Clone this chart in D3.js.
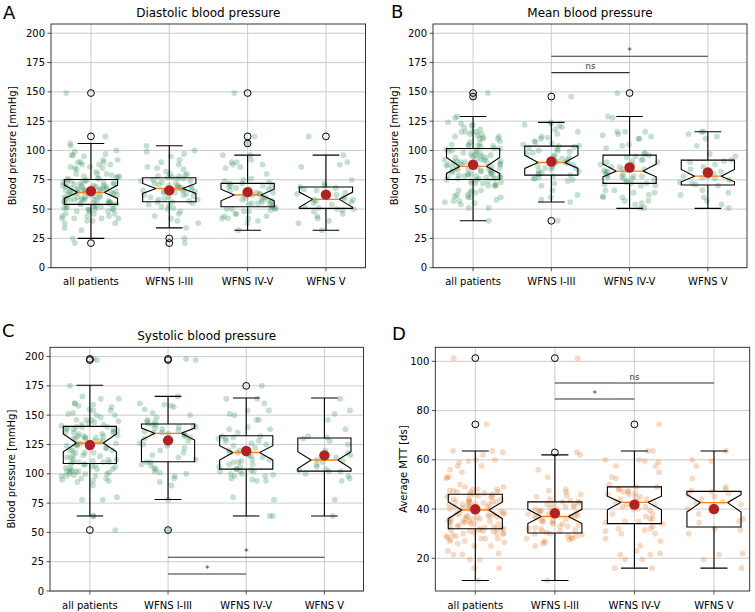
<!DOCTYPE html>
<html><head><meta charset="utf-8">
<script src="https://cdn.jsdelivr.net/npm/d3@7"></script>
<style>body{margin:0;background:#fff} svg{display:block} text{font-family:"DejaVu Sans",sans-serif;fill:#000}</style>
</head><body>
<svg id="c" width="755" height="612"></svg>
<script>
// ---------------- data ----------------
const categories = ["all patients", "WFNS I-III", "WFNS IV-V", "WFNS V"];
const yTicksBP = [0, 25, 50, 75, 100, 125, 150, 175, 200];
const yTicksMTT = [20, 40, 60, 80, 100];

// Diastolic: per-patient values by grade group (WFNS I-III, WFNS IV only, WFNS V)
const diaG13 = [21,25,34,38,40,42,44,46,48,50,51,52,53,54,55,56,56,57,58,58,59,60,60,61,62,62,63,64,64,65,65,66,66,67,67,68,68,69,69,70,70,71,72,72,73,74,74,75,76,76,77,77,78,78,79,80,80,82,84,85,86,88,90,92,95,97,99,100,104];
const diaG4 = [149,106,96,92,90,88,85,80,76,74,73,72,70,69,67,66,64,63,62,60,58,56,55,54,52,50,48,46,44,42,42];
const diaG5 = [32,38,40,42,44,46,48,49,50,50,51,52,54,55,56,57,58,58,59,60,62,63,64,66,67,68,69,70,72,75,86,88,90,96,112];
const diaQ1 = [54, 56.3, 52, 50.6];
const diaMed = [64.2, 67.6, 62, 58.3];
const diaQ3 = [75.3, 76.7, 71.9, 68.8];
const diaNotchLo = [59.1, 63.4, 57.1, 51.5];
const diaNotchHi = [70.5, 71.9, 67, 64.5];
const diaWhLo = [25, 34, 32, 32];
const diaWhHi = [106, 104, 96, 96];
const diaMean = [65.3, 66, 64.5, 62.3];
const diaOutliers = [[149, 112, 21], [25, 21], [149, 112, 106], [112]];

// Mean blood pressure
const mapG13 = [40,56,58,60,62,66,70,72,74,75,76,76,77,78,79,80,80,81,82,83,84,85,85,86,87,88,88,89,90,90,91,92,93,94,95,96,97,98,99,100,100,101,102,103,104,104,105,106,107,108,110,111,112,114,116,118,120,121,122,123,124,146];
const mapG4 = [149,129,128,116,113,110,105,102,98,96,94,92,90,88,86,84,83,82,80,78,76,74,72,70,66,64,61,60,57,55,51];
const mapG5 = [51,54,57,60,62,64,66,70,71,72,73,75,76,77,78,78,79,80,82,84,86,88,90,91,92,95,97,104,110,112,114,116,116];
const mapQ1 = [75.3, 79, 71.9, 70.5];
const mapMed = [86.4, 89.8, 82.4, 78.1];
const mapQ3 = [101.7, 103.7, 96, 91.8];
const mapNotchLo = [80.4, 84.7, 77.5, 73.3];
const mapNotchHi = [94.1, 96, 88.4, 83.8];
const mapWhLo = [40, 56, 50.6, 50.6];
const mapWhHi = [129, 124, 129, 116];
const mapMean = [87.8, 90.6, 85.5, 81.2];
const mapOutliers = [[149, 146], [146, 40], [149], []];
const mapBrackets = [{a: 2, b: 4, y: 180.4, label: "*"}, {a: 2, b: 3, y: 166.5, label: "ns"}];

// Systolic
const sysG13 = [52,78,90,93,96,98,100,101,102,104,105,107,108,110,110,112,114,116,118,120,122,124,125,126,128,130,131,132,133,134,134,135,135,136,137,138,139,140,140,141,142,142,143,144,145,146,148,150,152,155,157,158,159,160,166,197,198];
const sysG4 = [64,80,94,95,98,99,100,102,104,106,108,110,112,115,118,120,122,124,126,128,130,132,135,138,140,146,150,154,160,164,175];
const sysG5 = [64,78,94,96,98,100,102,102,103,104,106,108,110,111,112,114,116,118,120,125,128,130,131,132,138,146,151,154,164];
const sysQ1 = [108.8, 110.3, 104, 102.3];
const sysMed = [126.2, 134.5, 118.2, 111.7];
const sysQ3 = [140.4, 142.5, 132.5, 130.5];
const sysNotchLo = [118.8, 128.8, 111.7, 104.5];
const sysNotchHi = [133.9, 139, 123.9, 118.8];
const sysWhLo = [64, 78, 64, 64];
const sysWhHi = [175.5, 166, 164.7, 164.7];
const sysMean = [124.5, 128.5, 119.4, 115.7];
const sysOutliers = [[198, 197, 52], [198, 197, 52], [175], []];
const sysBrackets = [{a: 2, b: 4, y: 28.8, label: "*"}, {a: 2, b: 3, y: 14.5, label: "*"}];

// Average MTT
const mttG13 = [11,25,26,26.5,27,27.5,28,28,28.5,29,29,29.5,30,30,30.5,31,31,31.5,32,32,32.5,33,33,33.5,34,34,34.5,35,35,35.5,36,36,36.5,37,37,37,37.5,38,38,38.5,39,39,39.5,40,40,40.5,41,41,41.5,42,42,42.5,43,43,43.5,44,45,45.5,46,47,47.5,48,53,56,62,63,101.3];
const mttG4 = [16,19.5,21.5,23,25,27,28,30,31,32,33,34,35,36,37,38,40,41,42,43,44,45,46,47,48,49,50,53,55,57.5,59,60,63.6,74.4];
const mttG5 = [16,19.5,21.5,22,30,31.5,32,34.5,35,36,38,39.5,40,41,42,42.5,43,44,45,46,46.5,47,47.5,48,49,52.5,57.5,59.5,60,63.6];
const mttQ1 = [32, 30.3, 34.1, 32.7];
const mttMed = [39.6, 37, 42.7, 42.6];
const mttQ3 = [46, 42.9, 49, 47.2];
const mttNotchLo = [36.1, 34.1, 39.7, 38.8];
const mttNotchHi = [42.9, 39.9, 45.2, 45.8];
const mttWhLo = [11, 11, 16, 16];
const mttWhHi = [63.6, 62, 63.6, 63.6];
const mttMean = [39.9, 38.3, 41.8, 40];
const mttOutliers = [[101.3, 74.4], [101.3, 63], [74.4], []];
const mttBrackets = [{a: 2, b: 4, y: 91.2, label: "ns"}, {a: 2, b: 3, y: 84.7, label: "*"}];

// group membership: all = I-III + IV + V ; IV-V = IV + V
function groups(g13, g4, g5) { return [g13.concat(g4, g5), g13, g4.concat(g5), g5]; }

// ---------------- layout ----------------
const panels = [
  {letter: "A", lx: 3, ly: 19, title: "Diastolic blood pressure", ylabel: "Blood pressure [mmHg]", ylx: 16,
   x0: 51, x1: 365.5, y0: 24, y1: 267.7, xd: [0.49, 4.505], yd: [0, 207.9], ticks: yTicksBP,
   color: "#2e8b57", vals: groups(diaG13, diaG4, diaG5), q1: diaQ1, med: diaMed, q3: diaQ3, nlo: diaNotchLo, nhi: diaNotchHi,
   wlo: diaWhLo, whi: diaWhHi, mean: diaMean, out: diaOutliers, br: []},
  {letter: "B", lx: 391, ly: 18, title: "Mean blood pressure", ylabel: "Blood pressure [mmHg]", ylx: 397.5,
   x0: 433, x1: 747, y0: 24, y1: 267.7, xd: [0.488, 4.5], yd: [0, 207.9], ticks: yTicksBP,
   color: "#2e8b57", vals: groups(mapG13, mapG4, mapG5), q1: mapQ1, med: mapMed, q3: mapQ3, nlo: mapNotchLo, nhi: mapNotchHi,
   wlo: mapWhLo, whi: mapWhHi, mean: mapMean, out: mapOutliers, br: mapBrackets},
  {letter: "C", lx: 2, ly: 337, title: "Systolic blood pressure", ylabel: "Blood pressure [mmHg]", ylx: 14.5,
   x0: 50, x1: 363.5, y0: 347.3, y1: 591, xd: [0.49, 4.5], yd: [0, 207.9], ticks: yTicksBP,
   color: "#2e8b57", vals: groups(sysG13, sysG4, sysG5), q1: sysQ1, med: sysMed, q3: sysQ3, nlo: sysNotchLo, nhi: sysNotchHi,
   wlo: sysWhLo, whi: sysWhHi, mean: sysMean, out: sysOutliers, br: sysBrackets},
  {letter: "D", lx: 392, ly: 340, title: "", ylabel: "Average MTT [ds]", ylx: 407,
   x0: 435.3, x1: 749.7, y0: 347.3, y1: 591, xd: [0.497, 4.449], yd: [6.72, 105.7], ticks: yTicksMTT,
   color: "#e07a2e", vals: groups(mttG13, mttG4, mttG5), q1: mttQ1, med: mttMed, q3: mttQ3, nlo: mttNotchLo, nhi: mttNotchHi,
   wlo: mttWhLo, whi: mttWhHi, mean: mttMean, out: mttOutliers, br: mttBrackets}
];

// deterministic jitter generator (visual spread only)
function rng(seed) { return function() { seed |= 0; seed = seed + 0x6D2B79F5 | 0; let t = Math.imul(seed ^ seed >>> 15, 1 | seed);
  t = t + Math.imul(t ^ t >>> 7, 61 | t) ^ t; return ((t ^ t >>> 14) >>> 0) / 4294967296; }; }

const svg = d3.select("#c");
const BW = 0.68; // box width in category units

panels.forEach((p, pi) => {
  const x = d3.scaleLinear().domain(p.xd).range([p.x0, p.x1]);
  const y = d3.scaleLinear().domain(p.yd).range([p.y1, p.y0]);
  const g = svg.append("g");
  const clip = "clip" + pi;
  svg.append("clipPath").attr("id", clip).append("rect").attr("x", p.x0).attr("y", p.y0).attr("width", p.x1 - p.x0).attr("height", p.y1 - p.y0);

  // grid
  const grid = g.append("g").attr("stroke", "#b0b0b0").attr("stroke-width", 0.8).attr("opacity", 0.8);
  p.ticks.forEach(t => grid.append("line").attr("x1", p.x0).attr("x2", p.x1).attr("y1", y(t)).attr("y2", y(t)));
  categories.forEach((c, i) => grid.append("line").attr("x1", x(i + 1)).attr("x2", x(i + 1)).attr("y1", p.y0).attr("y2", p.y1));

  const body = g.append("g").attr("clip-path", `url(#${clip})`);
  // jittered points
  p.vals.forEach((arr, i) => {
    const r = rng(1000 * (pi + 1) + 17 * (i + 1));
    body.append("g").selectAll("circle").data(arr).join("circle")
      .attr("cx", () => x(i + 1 + (r() - 0.5) * 0.74))
      .attr("cy", d => y(d)).attr("r", 2.9)
      .attr("fill", p.color).attr("fill-opacity", 0.28);
  });

  // boxes
  categories.forEach((c, i) => {
    const cx = i + 1, L = x(cx - BW / 2), R = x(cx + BW / 2), cl = x(cx - BW / 4), cr = x(cx + BW / 4);
    const pts = [[L, y(p.q1[i])], [L, y(p.nlo[i])], [cl, y(p.med[i])], [L, y(p.nhi[i])], [L, y(p.q3[i])],
                 [R, y(p.q3[i])], [R, y(p.nhi[i])], [cr, y(p.med[i])], [R, y(p.nlo[i])], [R, y(p.q1[i])]];
    body.append("path").attr("d", d3.line()(pts) + "Z").attr("fill", "none").attr("stroke", "#000").attr("stroke-width", 1.1);
    // whiskers
    body.append("line").attr("x1", x(cx)).attr("x2", x(cx)).attr("y1", y(p.q1[i])).attr("y2", y(p.wlo[i])).attr("stroke", "#000").attr("stroke-width", 1.1);
    body.append("line").attr("x1", x(cx)).attr("x2", x(cx)).attr("y1", y(p.q3[i])).attr("y2", y(p.whi[i])).attr("stroke", "#000").attr("stroke-width", 1.1);
    [p.wlo[i], p.whi[i]].forEach(v => body.append("line").attr("x1", cl).attr("x2", cr).attr("y1", y(v)).attr("y2", y(v)).attr("stroke", "#000").attr("stroke-width", 1.1));
    // median
    body.append("line").attr("x1", cl).attr("x2", cr).attr("y1", y(p.med[i])).attr("y2", y(p.med[i])).attr("stroke", "#ff7f0e").attr("stroke-width", 1.4);
    // outliers
    body.append("g").selectAll("circle").data(p.out[i]).join("circle")
      .attr("cx", x(cx)).attr("cy", d => y(d)).attr("r", 3.4).attr("fill", "none").attr("stroke", "#000").attr("stroke-width", 1);
    // mean
    body.append("circle").attr("cx", x(cx)).attr("cy", y(p.mean[i])).attr("r", 5.2).attr("fill", "#b22222");
  });

  // significance brackets
  p.br.forEach(b => {
    body.append("line").attr("x1", x(b.a)).attr("x2", x(b.b)).attr("y1", y(b.y)).attr("y2", y(b.y)).attr("stroke", "#333").attr("stroke-width", 1.2);
    body.append("text").attr("x", x((b.a + b.b) / 2)).attr("y", y(b.y) - (b.label === "*" ? 2.5 : 3.5))
      .attr("text-anchor", "middle").attr("font-size", b.label === "*" ? 9 : 8.5).style("fill", "#333").text(b.label);
  });

  // frame
  g.append("rect").attr("x", p.x0).attr("y", p.y0).attr("width", p.x1 - p.x0).attr("height", p.y1 - p.y0)
    .attr("fill", "none").attr("stroke", "#222").attr("stroke-width", 0.9);

  // y ticks
  p.ticks.forEach(t => {
    g.append("line").attr("x1", p.x0 - 3.5).attr("x2", p.x0).attr("y1", y(t)).attr("y2", y(t)).attr("stroke", "#222").attr("stroke-width", 0.8);
    g.append("text").attr("x", p.x0 - 6).attr("y", y(t)).attr("dy", "0.35em").attr("text-anchor", "end").attr("font-size", 10).text(t);
  });
  // x ticks
  categories.forEach((c, i) => {
    g.append("line").attr("x1", x(i + 1)).attr("x2", x(i + 1)).attr("y1", p.y1).attr("y2", p.y1 + 3.5).attr("stroke", "#222").attr("stroke-width", 0.8);
    g.append("text").attr("x", x(i + 1)).attr("y", p.y1 + 17.5).attr("text-anchor", "middle").attr("font-size", 10).text(c);
  });

  // labels
  g.append("text").attr("transform", `translate(${p.ylx},${(p.y0 + p.y1) / 2}) rotate(-90)`).attr("text-anchor", "middle").attr("font-size", 10).text(p.ylabel);
  if (p.title) g.append("text").attr("x", (p.x0 + p.x1) / 2).attr("y", p.y0 - 7).attr("text-anchor", "middle").attr("font-size", 12).text(p.title);
  g.append("text").attr("x", p.lx).attr("y", p.ly).attr("font-size", 18).text(p.letter);
});
</script>
</body></html>
